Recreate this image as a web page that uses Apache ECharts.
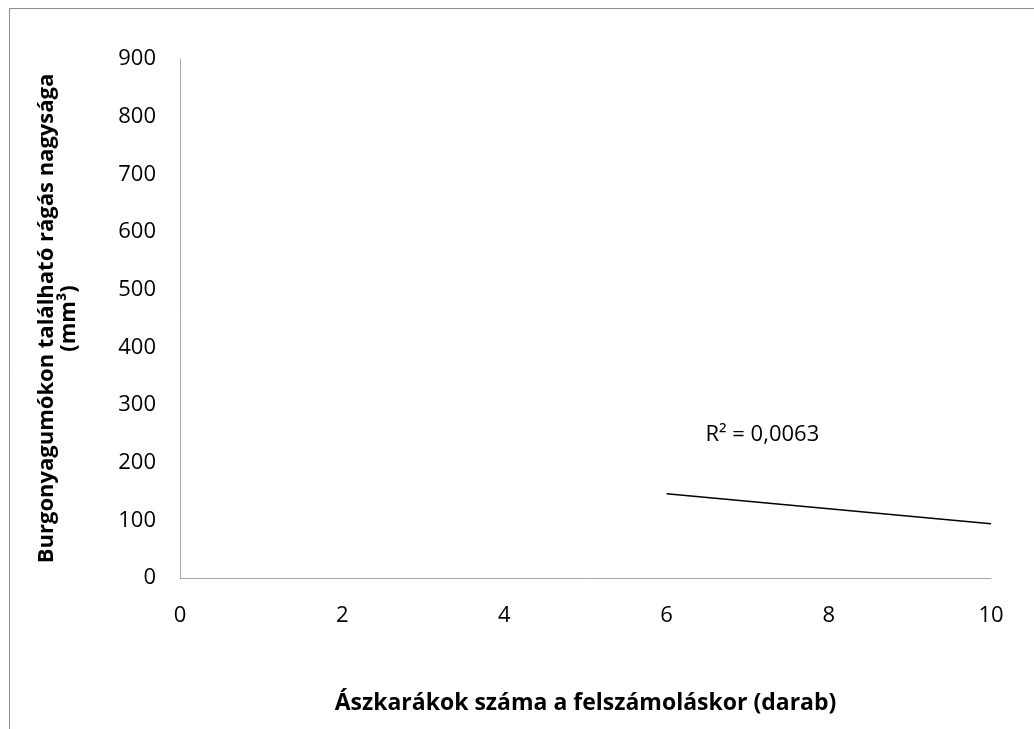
<!DOCTYPE html>
<html>
<head>
<meta charset="utf-8">
<script src="https://cdn.jsdelivr.net/npm/echarts@6/dist/echarts.min.js"></script>
<style>
  html, body { margin: 0; padding: 0; background: #fff; }
  #chart { width: 1034px; height: 729px; }
</style>
</head>
<body>
<div id="chart"></div>
<script>
// Linear trend line (end points) and its R² annotation
const trendX = [6, 10];
const trendY = [146, 94];
const r2Text = 'R² = 0,0063';
const r2Pos = [7.18, 248];

const xTitle = 'Ászkarákok száma a felszámoláskor (darab)';
const yTitle = 'Burgonyagumókon található rágás nagysága\n(mm³)';

const FONT = '"Open Sans", "Noto Sans", sans-serif';
const AXIS_GRAY = '#a6a6a6';

const chart = echarts.init(document.getElementById('chart'), null, { renderer: 'canvas' });

chart.setOption({
  animation: false,
  backgroundColor: '#fff',
  textStyle: { fontFamily: FONT },
  graphic: [{
    type: 'rect',
    shape: { x: 9.5, y: 8.5, width: 1200, height: 900 },
    style: { fill: null, stroke: '#8c8c8c', lineWidth: 1 },
    silent: true
  }],
  grid: { left: 180, top: 59, right: 43, bottom: 151 },
  xAxis: {
    type: 'value',
    min: 0, max: 10, interval: 2,
    name: xTitle,
    nameLocation: 'middle',
    nameGap: 114,
    nameTextStyle: { fontFamily: FONT, fontWeight: 'bold', fontSize: 23, color: '#000' },
    axisLine: { show: true, lineStyle: { color: AXIS_GRAY, width: 1 } },
    axisTick: { show: false },
    splitLine: { show: false },
    axisLabel: { fontFamily: FONT, fontSize: 22, color: '#000', margin: 27 }
  },
  yAxis: {
    type: 'value',
    min: 0, max: 900, interval: 100,
    name: yTitle,
    nameLocation: 'middle',
    nameRotate: 90,
    nameGap: 100,
    nameTextStyle: { fontFamily: FONT, fontWeight: 'bold', fontSize: 22, color: '#000', lineHeight: 22, align: 'center' },
    axisLine: { show: true, lineStyle: { color: AXIS_GRAY, width: 1 } },
    axisTick: { show: false },
    splitLine: { show: false },
    axisLabel: { fontFamily: FONT, fontSize: 22, color: '#000', margin: 24 }
  },
  series: [{
    type: 'line',
    data: trendX.map((x, i) => [x, trendY[i]]),
    symbol: 'none',
    lineStyle: { color: '#000', width: 1.5 },
    silent: true,
    markPoint: {
      symbol: 'circle',
      symbolSize: 0,
      silent: true,
      data: [{ coord: r2Pos, value: r2Text }],
      label: {
        show: true,
        position: 'inside',
        formatter: r2Text,
        fontFamily: FONT,
        fontSize: 22,
        color: '#000'
      }
    }
  }]
});
</script>
</body>
</html>
